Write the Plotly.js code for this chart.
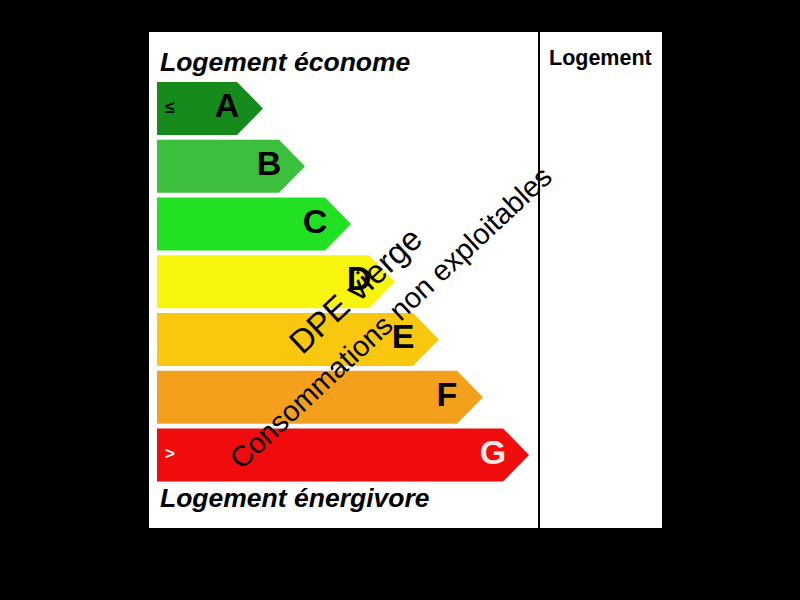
<!DOCTYPE html>
<html>
<head>
<meta charset="utf-8">
<script src="https://cdn.plot.ly/plotly-3.0.1.min.js"></script>
<style>html,body{margin:0;padding:0;background:#000;}#chart{width:800px;height:600px;}</style>
</head>
<body>
<div id="chart"></div>
<script>
// ---- data ----
const classes = ['A', 'B', 'C', 'D', 'E', 'F', 'G'];
const barEnds = [114, 156, 202, 246, 290, 334, 380];   // tip position of each class arrow
const classColors = ['#178a1c', '#3cbf3c', '#22e022', '#f7f50c', '#f9c80e', '#f5a01c', '#f00c0c'];
const letterColors = ['#000', '#000', '#000', '#000', '#000', '#000', '#fde6e6'];
const edgeMarks = ['≤', '', '', '', '', '', '>'];
const edgeMarkColors = ['#000', '#000', '#000', '#000', '#000', '#000', '#fff'];
const topLabel = 'Logement économe';
const bottomLabel = 'Logement énergivore';
const sideHeader = 'Logement';
const stampTexts = ['DPE vierge', 'Consommations non exploitables'];

// ---- geometry ----
const barStart = 8, tipDepth = 26, halfH = 0.46;

const traces = classes.map((c, i) => {
  const e = barEnds[i];
  return {
    type: 'scatter', mode: 'lines', fill: 'toself',
    x: [barStart, e - tipDepth, e, e - tipDepth, barStart, barStart],
    y: [i - halfH, i - halfH, i, i + halfH, i + halfH, i - halfH],
    fillcolor: classColors[i], line: {width: 0, color: classColors[i]},
    hoverinfo: 'skip', showlegend: false
  };
});

traces.push({
  type: 'scatter', mode: 'text',
  x: barEnds.map(e => e - 36), y: classes.map((c, i) => i),
  text: classes,
  textfont: {family: 'Liberation Sans, Arial, sans-serif', size: 34, color: letterColors, weight: 'bold'},
  textposition: 'middle center', hoverinfo: 'skip', showlegend: false
});

traces.push({
  type: 'scatter', mode: 'text',
  x: classes.map(() => 21), y: classes.map((c, i) => i),
  text: edgeMarks,
  textfont: {family: 'Liberation Sans, Arial, sans-serif', size: 17, color: edgeMarkColors, weight: 'bold'},
  textposition: 'middle center', hoverinfo: 'skip', showlegend: false
});

const layout = {
  width: 800, height: 600,
  paper_bgcolor: '#000', plot_bgcolor: '#fff',
  margin: {l: 149, r: 138, t: 32, b: 72},
  xaxis: {range: [0, 513], showgrid: false, zeroline: false, showticklabels: false, showline: false, fixedrange: true},
  yaxis: {range: [7.264, -1.325], showgrid: false, zeroline: false, showticklabels: false, showline: false, fixedrange: true},
  shapes: [
    {type: 'line', xref: 'x', yref: 'paper', x0: 390, x1: 390, y0: 0, y1: 1, line: {color: '#000', width: 2}}
  ],
  annotations: [
    {xref: 'x', yref: 'y', x: 9, y: -0.8, xanchor: 'left', yanchor: 'middle', showarrow: false,
     text: '<b><i>' + topLabel + '</i></b>', font: {family: 'Liberation Sans, Arial, sans-serif', size: 26.5, color: '#000'}},
    {xref: 'x', yref: 'y', x: 9, y: 6.75, xanchor: 'left', yanchor: 'middle', showarrow: false,
     text: '<b><i>' + bottomLabel + '</i></b>', font: {family: 'Liberation Sans, Arial, sans-serif', size: 26.5, color: '#000'}},
    {xref: 'x', yref: 'y', x: 451.5, y: -0.87, xanchor: 'center', yanchor: 'middle', showarrow: false,
     text: '<b>' + sideHeader + '</b>', font: {family: 'Liberation Sans, Arial, sans-serif', size: 21.5, color: '#000'}},
    {xref: 'x', yref: 'y', x: 206, y: 3.15, xanchor: 'center', yanchor: 'middle', showarrow: false, textangle: -43,
     text: stampTexts[0], font: {family: 'Liberation Sans, Arial, sans-serif', size: 33, color: '#000'}},
    {xref: 'x', yref: 'y', x: 241, y: 3.62, xanchor: 'center', yanchor: 'middle', showarrow: false, textangle: -43,
     text: stampTexts[1], font: {family: 'Liberation Sans, Arial, sans-serif', size: 29, color: '#000'}}
  ]
};

Plotly.newPlot('chart', traces, layout, {displayModeBar: false, staticPlot: true});
</script>
</body>
</html>
